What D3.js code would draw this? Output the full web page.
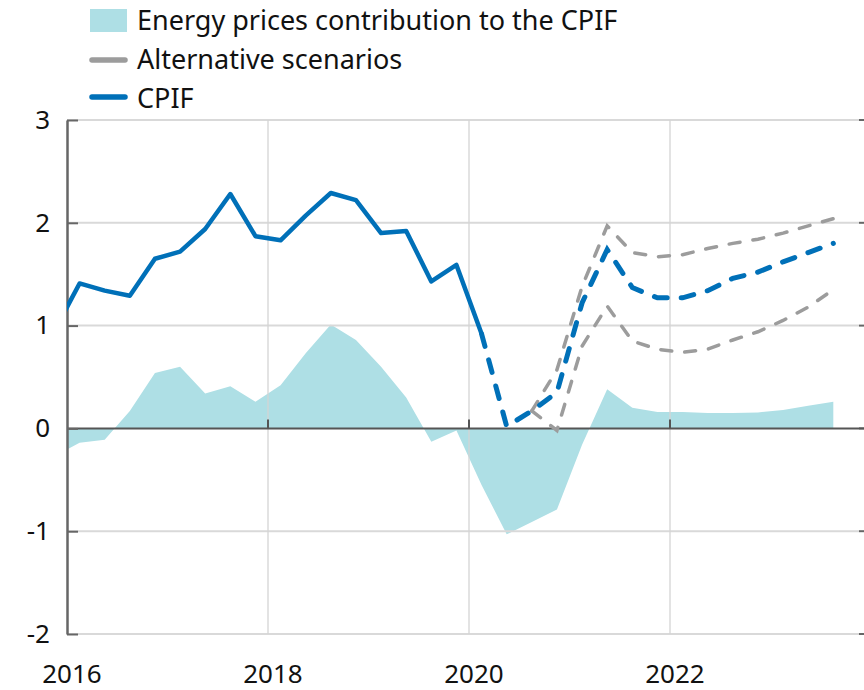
<!DOCTYPE html>
<html>
<head>
<meta charset="utf-8">
<script src="https://d3js.org/d3.v7.min.js"></script>
<style>
  body { margin: 0; background: #fff; }
  svg { display: block; font-family: "Noto Sans", "Open Sans", sans-serif; }
</style>
</head>
<body>
<div id="chart"></div>
<script>
// quarterly data, plotted at mid-quarter
const actualQuarters = ['2015Q4', '2016Q1', '2016Q2', '2016Q3', '2016Q4', '2017Q1', '2017Q2', '2017Q3', '2017Q4',
    '2018Q1', '2018Q2', '2018Q3', '2018Q4', '2019Q1', '2019Q2', '2019Q3', '2019Q4', '2020Q1'];
const cpifActual = [0.95, 1.41, 1.34, 1.29, 1.65, 1.72, 1.94, 2.28, 1.87,
    1.83, 2.07, 2.29, 2.22, 1.90, 1.92, 1.43, 1.59, 0.92];

const forecastQuarters = ['2020Q1', '2020Q2', '2020Q3', '2020Q4', '2021Q1', '2021Q2', '2021Q3', '2021Q4',
    '2022Q1', '2022Q2', '2022Q3', '2022Q4', '2023Q1', '2023Q2', '2023Q3'];
const cpifForecast = [0.92, 0.02, 0.17, 0.35, 1.22, 1.74, 1.37, 1.27, 1.27, 1.34, 1.46, 1.52, 1.62, 1.71, 1.80];

const altQuarters = ['2020Q3', '2020Q4', '2021Q1', '2021Q2', '2021Q3', '2021Q4',
    '2022Q1', '2022Q2', '2022Q3', '2022Q4', '2023Q1', '2023Q2', '2023Q3'];
const altHigh = [0.17, 0.57, 1.38, 1.97, 1.71, 1.67, 1.69, 1.75, 1.80, 1.84, 1.90, 1.97, 2.04];
const altLow = [0.17, -0.02, 0.80, 1.19, 0.85, 0.77, 0.74, 0.77, 0.86, 0.94, 1.05, 1.18, 1.35];

const energyQuarters = actualQuarters.concat(forecastQuarters.slice(1));
const energy = [-0.27, -0.14, -0.11, 0.17, 0.54, 0.60, 0.34, 0.41, 0.26,
    0.42, 0.73, 1.01, 0.86, 0.60, 0.30, -0.13, -0.02, -0.55,
    -1.03, -0.91, -0.79, -0.16, 0.38, 0.20, 0.16, 0.16, 0.15, 0.15, 0.155, 0.18, 0.22, 0.26];

const yTicks = [-2, -1, 0, 1, 2, 3];
const xTicks = [2016, 2018, 2020, 2022];
const legendItems = ['Energy prices contribution to the CPIF', 'Alternative scenarios', 'CPIF'];

const blue = '#0070b8', grey = '#9c9c9c', teal = '#aedfe5';

const qTime = q => +q.slice(0, 4) + (+q.slice(5) - 1) * 0.25 + 0.125;
const pairs = (qs, vs) => qs.map((q, i) => ({ t: qTime(q), v: vs[i] }));

const w = 864, h = 690;
const plot = { left: 67, right: 864, top: 120, bottom: 634 };

const x = d3.scaleLinear().domain([2016, 2024]).range([plot.left, plot.left + 8 * 100.5]);
const y = d3.scaleLinear().domain([-2, 3]).range([plot.bottom, plot.top]);

const svg = d3.select('#chart').append('svg').attr('width', w).attr('height', h);

svg.append('clipPath').attr('id', 'clip')
    .append('rect')
    .attr('x', plot.left).attr('y', plot.top - 5)
    .attr('width', plot.right - plot.left).attr('height', plot.bottom - plot.top + 10);

const area = d3.area().x(d => x(d.t)).y0(y(0)).y1(d => y(d.v));
const line = d3.line().x(d => x(d.t)).y(d => y(d.v));

// energy contribution
svg.append('path')
    .datum(pairs(energyQuarters, energy))
    .attr('clip-path', 'url(#clip)')
    .attr('fill', teal)
    .attr('d', area);

// grid
svg.append('g').selectAll('line')
    .data(yTicks.filter(d => d !== 0))
    .enter().append('line')
    .attr('x1', plot.left).attr('x2', plot.right - 5)
    .attr('y1', d => y(d)).attr('y2', d => y(d))
    .attr('stroke', '#d9d9d9').attr('stroke-width', 2);

svg.append('g').selectAll('line')
    .data(xTicks.slice(1))
    .enter().append('line')
    .attr('x1', d => x(d)).attr('x2', d => x(d))
    .attr('y1', plot.top).attr('y2', plot.bottom)
    .attr('stroke', '#d4d4d4').attr('stroke-width', 1.5)
    .attr('opacity', 0.85);

// right side ticks
svg.append('g').selectAll('line')
    .data(yTicks)
    .enter().append('line')
    .attr('x1', plot.right - 5).attr('x2', plot.right)
    .attr('y1', d => y(d)).attr('y2', d => y(d))
    .attr('stroke', '#666').attr('stroke-width', 2);

// zero line with year ticks
svg.append('line')
    .attr('x1', plot.left).attr('x2', plot.right)
    .attr('y1', y(0)).attr('y2', y(0))
    .attr('stroke', '#555').attr('stroke-width', 2);

svg.append('g').selectAll('line')
    .data(xTicks.slice(1))
    .enter().append('line')
    .attr('x1', d => x(d)).attr('x2', d => x(d))
    .attr('y1', y(0) - 9).attr('y2', y(0))
    .attr('stroke', '#555').attr('stroke-width', 2);

// left axis
const yAxis = d3.axisLeft(y)
    .tickValues(yTicks)
    .tickFormat(d => d)
    .tickSizeInner(-11)
    .tickSizeOuter(0)
    .tickPadding(17);

svg.append('g')
    .attr('id', 'y-axis')
    .attr('transform', 'translate(' + plot.left + ',0)')
    .call(yAxis)
    .call(g => g.select('.domain').attr('stroke', '#666').attr('stroke-width', 2.5))
    .call(g => g.selectAll('.tick line').attr('stroke', '#666').attr('stroke-width', 2))
    .call(g => g.selectAll('.tick text')
        .attr('font-size', 26).attr('fill', '#111')
        .style('font-family', '"Noto Sans", sans-serif'));

// x labels
svg.append('g').selectAll('text')
    .data(xTicks)
    .enter().append('text')
    .attr('x', d => x(d) + 5)
    .attr('y', 683)
    .attr('text-anchor', 'middle')
    .attr('font-size', 26)
    .attr('fill', '#111')
    .text(d => d);

// lines
const lines = svg.append('g').attr('clip-path', 'url(#clip)');

[altHigh, altLow].forEach(vs => {
    lines.append('path')
        .datum(pairs(altQuarters, vs))
        .attr('fill', 'none')
        .attr('stroke', grey)
        .attr('stroke-width', 3.5)
        .attr('stroke-linecap', 'round')
        .attr('stroke-dasharray', '11,13')
        .attr('d', line);
});

lines.append('path')
    .datum(pairs(forecastQuarters, cpifForecast))
    .attr('fill', 'none')
    .attr('stroke', blue)
    .attr('stroke-width', 5)
    .attr('stroke-linecap', 'round')
    .attr('stroke-dasharray', '13,14')
    .attr('d', line);

lines.append('path')
    .datum(pairs(actualQuarters, cpifActual))
    .attr('fill', 'none')
    .attr('stroke', blue)
    .attr('stroke-width', 4.5)
    .attr('stroke-linejoin', 'round')
    .attr('d', line);

// legend
const legend = svg.append('g').attr('id', 'legend');
legend.append('rect')
    .attr('x', 90).attr('y', 9).attr('width', 37).attr('height', 23)
    .attr('fill', teal);
[[grey, 60], [blue, 97]].forEach(([c, ly]) => {
    legend.append('line')
        .attr('x1', 92).attr('x2', 125)
        .attr('y1', ly).attr('y2', ly)
        .attr('stroke', c).attr('stroke-width', 5.5)
        .attr('stroke-linecap', 'round');
});
legend.selectAll('text')
    .data(legendItems)
    .enter().append('text')
    .attr('x', 137)
    .attr('y', (d, i) => 30 + i * 39)
    .attr('font-size', 27)
    .attr('fill', '#111')
    .text(d => d);
</script>
</body>
</html>
